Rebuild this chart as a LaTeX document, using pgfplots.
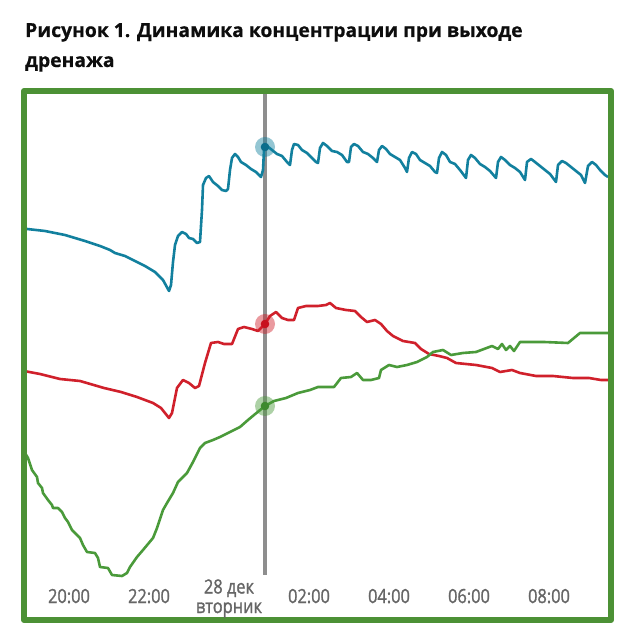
\documentclass[border=0pt]{standalone}
\usepackage{fontspec}
\setmainfont{Open Sans}
\newfontfamily\tickfont{Open Sans}[FakeStretch=0.84, FakeBold=1.3]
\newfontfamily\titlefont{Open Sans}[FakeBold=0.6]
\usepackage{pgfplots}
\pgfplotsset{compat=1.18}
\definecolor{cblue}{HTML}{12809E}
\definecolor{cbluedark}{HTML}{0B6E8C}
\definecolor{cred}{HTML}{D0202B}
\definecolor{creddark}{HTML}{C8101E}
\definecolor{cgreen}{HTML}{4A9A3A}
\definecolor{cgreendark}{HTML}{3E8A2E}
\definecolor{frame}{HTML}{4C9135}
\definecolor{tickgray}{HTML}{666666}
\definecolor{vline}{HTML}{8E8E8E}
\begin{document}
\begin{tikzpicture}
\path[use as bounding box] (0,0) rectangle (632bp,643bp);
\node[anchor=base west, inner sep=0pt, font=\titlefont\fontsize{19.3bp}{24bp}\selectfont\bfseries, text={black!95}] at (25bp,606bp) {Рисунок 1. Динамика концентрации при выходе};
\node[anchor=base west, inner sep=0pt, font=\titlefont\fontsize{19.3bp}{24bp}\selectfont\bfseries, text={black!95}] at (25bp,576bp) {дренажа};
\begin{axis}[
  at={(24bp,23bp)}, anchor=south west,
  scale only axis, width=587bp, height=529bp,
  xmin=-1.125, xmax=13.55, ymin=23, ymax=552,
  axis on top,
  axis line style={draw=frame, line width=6bp},
  ytick=\empty,
  xtick={0,2,4,6,8,10,12},
  xticklabels={20:00,22:00,{\raisebox{-10bp}{\begin{tabular}[b]{@{}c@{}}28 дек\\[1.5bp]вторник\end{tabular}}},02:00,04:00,06:00,08:00},
  major tick length=0pt,
  xticklabel style={anchor=base, yshift=17bp, inner sep=0pt, font=\tickfont\fontsize{19.5bp}{18bp}\selectfont, text=tickgray},
  line join=round,
]
\addplot[vline, line width=4bp] coordinates {(4.9,68) (4.9,552)};
% blue series
\addplot[cblue, line width=2.6bp] coordinates {
(-1.05,414)(-0.6,412)(-0.1,408)(0.4,402)(0.775,397)(1.025,393)(1.15,390)(1.4,387)(1.65,382)(1.9,377)(2.15,371)(2.35,363)(2.5,352)(2.55,358)(2.6,381)(2.65,398)(2.725,407)(2.825,411)(2.925,409)(3.0,405)(3.1,404)(3.2,400)(3.275,401)(3.325,433)(3.35,458)(3.425,465)(3.5,467)(3.6,461)(3.725,457)(3.825,453)(3.925,452)(3.975,454)(4.025,473)(4.075,485)(4.15,489)(4.225,486)(4.3,481)(4.425,478)(4.55,474)(4.675,471)(4.8,466)(4.85,473)(4.875,493)(4.95,497)(5.075,493)(5.2,489)(5.325,487)(5.45,481)(5.525,478)(5.575,493)(5.625,499)(5.725,498)(5.825,493)(5.95,490)(6.075,485)(6.175,481)(6.225,480)(6.275,495)(6.35,500)(6.45,497)(6.575,492)(6.7,491)(6.825,488)(6.95,481)(7.0,481)(7.05,496)(7.125,499)(7.225,497)(7.35,491)(7.475,489)(7.6,485)(7.7,481)(7.75,493)(7.825,497)(7.925,494)(8.025,489)(8.15,486)(8.275,483)(8.4,475)(8.45,471)(8.5,485)(8.575,491)(8.675,489)(8.775,483)(8.9,480)(9.025,477)(9.15,471)(9.2,470)(9.25,485)(9.325,491)(9.425,488)(9.525,481)(9.65,479)(9.775,473)(9.925,465)(9.975,483)(10.05,488)(10.15,485)(10.275,479)(10.4,476)(10.525,472)(10.675,465)(10.725,481)(10.8,486)(10.9,483)(11.025,478)(11.15,475)(11.275,471)(11.4,463)(11.45,481)(11.55,484)(11.65,481)(11.775,477)(11.9,473)(12.025,469)(12.175,461)(12.225,478)(12.325,482)(12.425,480)(12.55,476)(12.675,472)(12.8,468)(12.9,460)(12.975,477)(13.075,481)(13.175,478)(13.275,473)(13.4,468)(13.475,466)};
% red series
\addplot[cred, line width=2.6bp] coordinates {
(-1.125,272)(-0.725,269)(-0.225,264)(0.275,262)(0.875,255)(1.3,251)(1.7,246)(2.1,240)(2.3,235)(2.5,225)(2.575,230)(2.7,255)(2.85,263)(3.0,260)(3.15,255)(3.25,257)(3.4,280)(3.55,300)(3.725,301)(3.875,299)(4.075,299)(4.225,314)(4.375,316)(4.575,314)(4.725,312)(4.9,319)(5.025,327)(5.175,331)(5.325,325)(5.475,323)(5.625,323)(5.725,335)(5.925,337)(6.225,337)(6.425,338)(6.525,340)(6.675,335)(6.925,333)(7.15,332)(7.3,326)(7.45,321)(7.65,323)(7.8,319)(7.95,312)(8.1,307)(8.35,302)(8.65,300)(8.8,294)(9.0,289)(9.25,287)(9.45,285)(9.675,280)(10.175,278)(10.575,275)(10.775,271)(11.075,273)(11.275,270)(11.675,267)(12.1,267)(12.6,265)(13.0,265)(13.3,263)(13.55,263)};
% green series
\addplot[cgreen, line width=2.6bp] coordinates {
(-1.125,192)(-1.1,190)(-1.025,185)(-0.925,173)(-0.8,166)(-0.775,160)(-0.675,155)(-0.65,150)(-0.525,143)(-0.425,138)(-0.4,135)(-0.275,135)(-0.175,131)(-0.1,125)(-0.025,121)(0.075,113)(0.2,108)(0.275,105)(0.35,98)(0.45,91)(0.65,90)(0.725,85)(0.775,76)(0.975,75)(1.075,68)(1.325,67)(1.45,70)(1.525,76)(1.7,86)(1.85,93)(2.1,105)(2.2,115)(2.35,133)(2.45,140)(2.6,150)(2.725,161)(2.95,170)(3.1,181)(3.275,195)(3.4,200)(3.6,203)(3.775,206)(4.025,211)(4.275,216)(4.475,223)(4.625,228)(4.9,237)(5.125,242)(5.425,245)(5.725,250)(6.025,253)(6.225,256)(6.625,256)(6.8,265)(7.05,266)(7.2,270)(7.35,263)(7.55,263)(7.75,265)(7.8,273)(8.0,278)(8.2,276)(8.45,278)(8.7,281)(8.95,286)(9.1,291)(9.35,293)(9.55,288)(9.85,290)(10.175,291)(10.375,294)(10.575,297)(10.725,294)(10.825,299)(10.925,293)(11.025,297)(11.125,292)(11.275,301)(11.475,301)(11.875,301)(12.475,300)(12.775,310)(13.2,310)(13.55,310)};
% markers at the cursor
\addplot[cblue, only marks, mark=*, mark size=10bp, mark options={draw opacity=0, fill=cblue, fill opacity=0.45}] coordinates {(4.9,496)};
\addplot[cbluedark, only marks, mark=*, mark size=4.3bp, mark options={draw opacity=0, fill=cbluedark}] coordinates {(4.9,496)};
\addplot[cred, only marks, mark=*, mark size=10bp, mark options={draw opacity=0, fill=cred, fill opacity=0.45}] coordinates {(4.9,319)};
\addplot[creddark, only marks, mark=*, mark size=4.3bp, mark options={draw opacity=0, fill=creddark}] coordinates {(4.9,319)};
\addplot[cgreen, only marks, mark=*, mark size=10bp, mark options={draw opacity=0, fill=cgreen, fill opacity=0.45}] coordinates {(4.9,237)};
\addplot[cgreendark, only marks, mark=*, mark size=4.3bp, mark options={draw opacity=0, fill=cgreendark}] coordinates {(4.9,237)};
\end{axis}
\end{tikzpicture}
\end{document}
